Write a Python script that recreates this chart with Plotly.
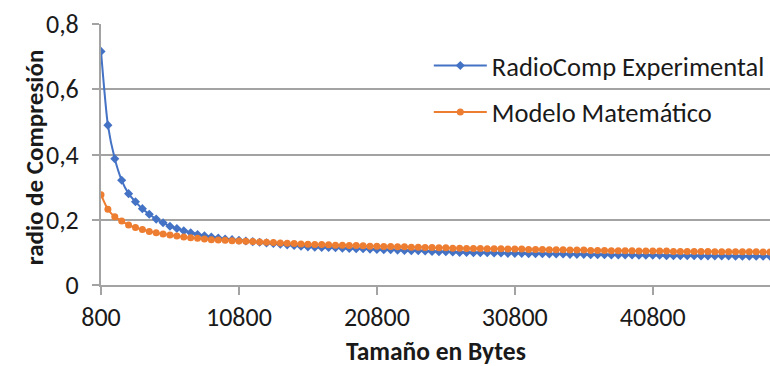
import plotly.graph_objects as go

# Message sizes in bytes (category axis: 800 to 49300 in steps of 500)
tamanos = list(range(800, 49301, 500))

radio_experimental = [
    0.716, 0.490, 0.387, 0.321, 0.280, 0.255, 0.234, 0.217, 0.202, 0.191,
    0.180, 0.173, 0.166, 0.160, 0.155, 0.151, 0.147, 0.144, 0.141, 0.139,
    0.137, 0.135, 0.133, 0.131, 0.129, 0.127, 0.125, 0.123, 0.121, 0.119,
    0.117, 0.116, 0.115, 0.115, 0.114, 0.113, 0.112, 0.111, 0.111, 0.110,
    0.109, 0.108, 0.108, 0.107, 0.106, 0.105, 0.105, 0.104, 0.103, 0.102,
    0.102, 0.101, 0.100, 0.100, 0.099, 0.099, 0.099, 0.098, 0.098, 0.097,
    0.097, 0.097, 0.096, 0.096, 0.096, 0.095, 0.095, 0.095, 0.094, 0.094,
    0.094, 0.093, 0.093, 0.093, 0.092, 0.092, 0.092, 0.092, 0.091, 0.091,
    0.091, 0.091, 0.090, 0.090, 0.090, 0.090, 0.090, 0.089, 0.089, 0.089,
    0.089, 0.089, 0.088, 0.088, 0.088, 0.088, 0.088, 0.088,
]

modelo_matematico = [
    0.277, 0.232, 0.209, 0.196, 0.184, 0.176, 0.170, 0.164, 0.160, 0.156,
    0.153, 0.150, 0.147, 0.145, 0.143, 0.141, 0.139, 0.138, 0.137, 0.136,
    0.135, 0.134, 0.133, 0.132, 0.131, 0.130, 0.129, 0.128, 0.127, 0.126,
    0.125, 0.124, 0.124, 0.123, 0.122, 0.122, 0.121, 0.121, 0.120, 0.119,
    0.119, 0.118, 0.118, 0.117, 0.117, 0.116, 0.116, 0.115, 0.115, 0.114,
    0.114, 0.113, 0.113, 0.112, 0.112, 0.112, 0.111, 0.111, 0.111, 0.110,
    0.110, 0.110, 0.109, 0.109, 0.109, 0.108, 0.108, 0.108, 0.107, 0.107,
    0.107, 0.106, 0.106, 0.106, 0.105, 0.105, 0.105, 0.105, 0.104, 0.104,
    0.104, 0.104, 0.104, 0.103, 0.103, 0.103, 0.103, 0.103, 0.103, 0.102,
    0.102, 0.102, 0.102, 0.102, 0.102, 0.102, 0.101, 0.101,
]

x_ticks = [800, 10800, 20800, 30800, 40800]
x_ticklabels = ["800", "10800", "20800", "30800", "40800"]
y_ticks = [0, 0.2, 0.4, 0.6, 0.8]
y_ticklabels = ["0", "0,2", "0,4", "0,6", "0,8"]

FONT = "Carlito, Lato, sans-serif"
TEXT = "#1a1a1a"
GRID = "#a3a3a3"
AZUL = "#4472C4"
NARANJA = "#ED7D31"

fig = go.Figure()
fig.add_trace(go.Scatter(
    x=tamanos, y=radio_experimental, mode="lines+markers",
    name="RadioComp Experimental", legendgroup="a",
    line=dict(color=AZUL, width=2, shape="spline", smoothing=0.6),
    marker=dict(symbol="diamond", size=7, color=AZUL),
))
fig.add_trace(go.Scatter(
    x=tamanos, y=modelo_matematico, mode="lines+markers",
    name="Modelo Matemático", legendgroup="b",
    line=dict(color=NARANJA, width=2, shape="spline", smoothing=0.6),
    marker=dict(symbol="circle", size=7, color=NARANJA),
))

fig.update_layout(
    width=770, height=366,
    margin=dict(l=101, r=0, t=24, b=81),
    paper_bgcolor="white", plot_bgcolor="white",
    font=dict(family=FONT, size=24, color=TEXT),
    legend=dict(
        x=0.49, y=0.932, xanchor="left", yanchor="top",
        font=dict(size=26.5, color=TEXT),
        bgcolor="rgba(0,0,0,0)",
        itemwidth=53,
        traceorder="grouped", tracegroupgap=9,
    ),
    xaxis=dict(
        range=[800, 49300], showgrid=False, zeroline=False,
        showline=True, linecolor=GRID, linewidth=2,
        ticks="outside", ticklen=8, tickwidth=2, tickcolor=GRID,
        tickvals=x_ticks, ticktext=x_ticklabels,
        tickfont=dict(size=26, color=TEXT),
        ticklabelstandoff=0,
    ),
    yaxis=dict(
        range=[0, 0.8], showgrid=True, gridcolor=GRID, gridwidth=2,
        zeroline=False, showline=True, linecolor=GRID, linewidth=2,
        ticks="outside", ticklen=7, tickwidth=2, tickcolor=GRID,
        tickvals=y_ticks, ticktext=y_ticklabels,
        tickfont=dict(size=26, color=TEXT),
        ticklabelstandoff=8,
    ),
    annotations=[
        dict(text="<b>Tamaño en Bytes</b>", xref="paper", yref="paper",
             x=0.5, y=-0.255, xanchor="center", yanchor="middle",
             showarrow=False, font=dict(size=25.5, color=TEXT)),
        dict(text="<b>radio de Compresión</b>", xref="paper", yref="paper",
             x=-0.1, y=0.49, xanchor="center", yanchor="middle",
             textangle=-90, showarrow=False, font=dict(size=25, color=TEXT)),
    ],
)

fig.write_html("out.html")
